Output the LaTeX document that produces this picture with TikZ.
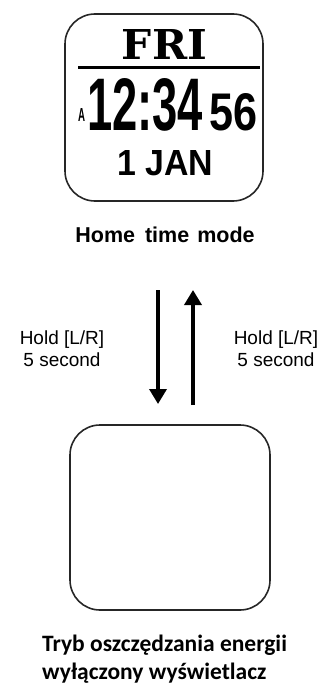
\documentclass[tikz,border=0pt]{standalone}
\usepackage{fontspec}
\usepackage{graphicx}
\setmainfont{Liberation Sans}
\newfontfamily\slabfont{DejaVu Serif}
\newfontfamily\calfont{Carlito}
\usetikzlibrary{arrows.meta}
\begin{document}
\begin{tikzpicture}[x=1pt,y=-1pt,
  watch/.style={draw=black!85, line width=1.6pt, rounded corners=30pt, inner sep=0pt},
  lcd/.style={inner sep=0pt, anchor=base west},
  hold/.style={align=center, inner sep=0pt, font=\fontsize{19}{22}\selectfont},
  arr/.style={line width=3.5pt, -{Triangle[width=17pt,length=15pt]}},
  ]
\useasboundingbox (0,0) rectangle (327,687);
% top watch
\node[watch, minimum width=198pt, minimum height=187pt] (w1) at (164,107.5) {};
\node[inner sep=0pt, anchor=base] (fri) at (164.5,60) {\resizebox{85pt}{30pt}{\slabfont\bfseries FRI}};
\draw[line width=3pt] (78,68) -- (260,68);
\node[lcd] (am) at (78,122) {\resizebox{7pt}{13pt}{\bfseries A}};
\node[lcd] (hm) at (87,131) {\resizebox{116pt}{52pt}{\bfseries 12:34}};
\node[lcd] (sec) at (209,131) {\resizebox{48pt}{37pt}{\bfseries 56}};
\node[lcd] (date) at (117,175) {\resizebox{96pt}{25pt}{\bfseries 1 JAN}};
\node[inner sep=0pt, anchor=base, font=\fontsize{21.5}{24}\selectfont\bfseries] (home) at (165,242) {Home\hspace{10pt}time\hspace{8pt}mode};
% arrows
\coordinate (d1) at (158,290);
\coordinate (d2) at (158,404);
\coordinate (u1) at (193,405);
\coordinate (u2) at (193,290);
\draw[arr] (d1) -- (d2);
\draw[arr] (u1) -- (u2);
\node[hold] (hl) at (62,349) {Hold [L/R]\\5 second};
\node[hold] (hr) at (276,349) {Hold [L/R]\\5 second};
% bottom watch
\node[watch, minimum width=200pt, minimum height=185pt] (w2) at (170,517.5) {};
\node[anchor=north west, inner sep=0pt, align=left, font=\calfont\bfseries\fontsize{23.5}{28}\selectfont] (cap) at (42,635) {Tryb oszczędzania energii\\wyłączony wyświetlacz};
\end{tikzpicture}
\end{document}
